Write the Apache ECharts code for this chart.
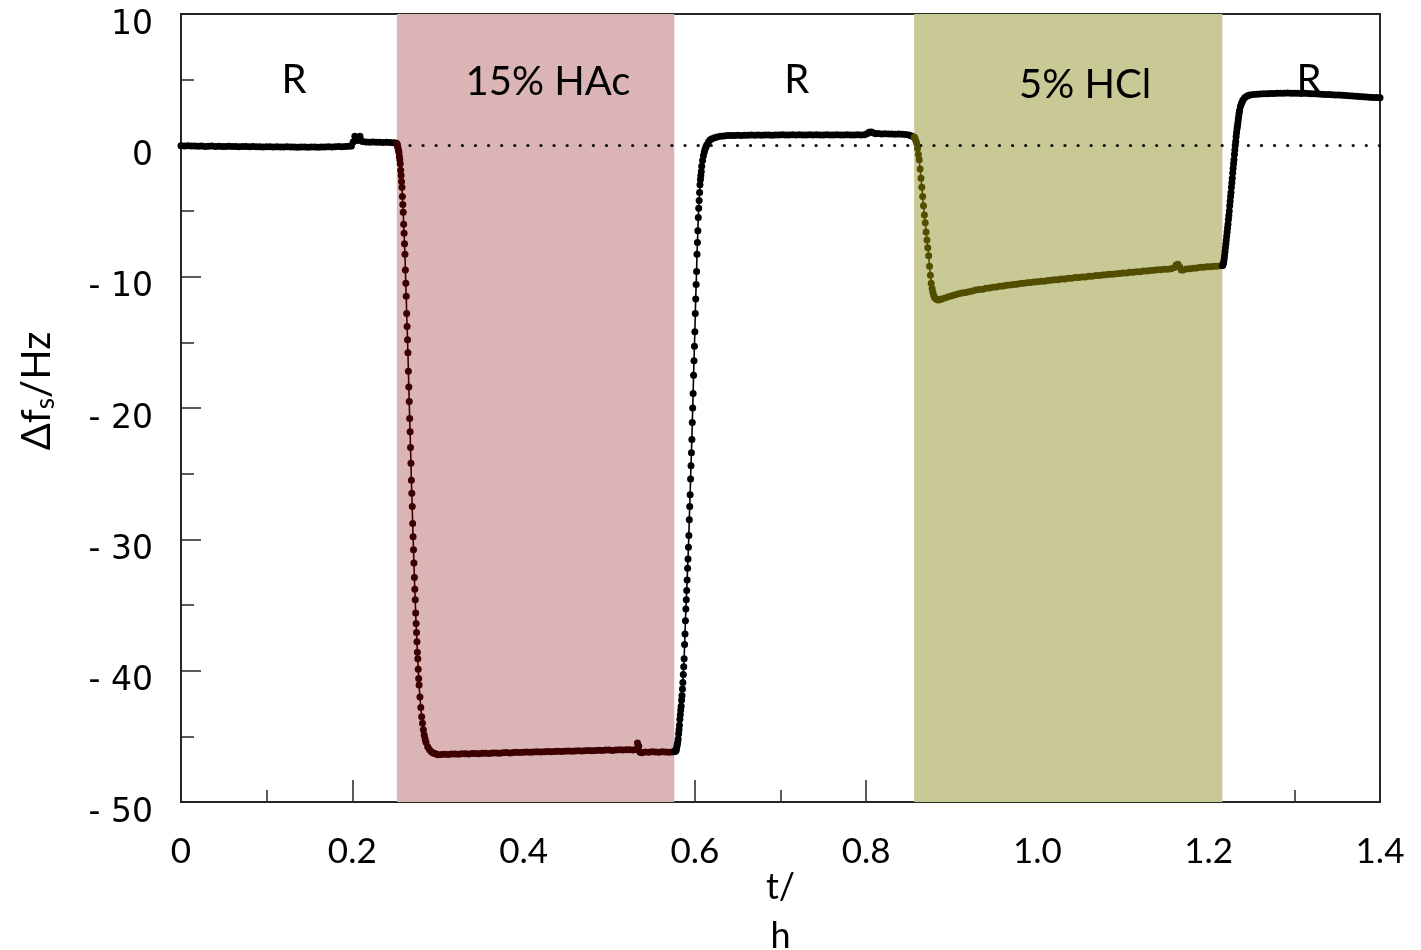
<!DOCTYPE html>
<html>
<head>
<meta charset="utf-8">
<script src="https://cdn.jsdelivr.net/npm/echarts@6/dist/echarts.min.js"></script>
<style>html,body{margin:0;padding:0;background:#fff}#c{width:1421px;height:950px}</style>
</head>
<body>
<div id="c"></div>
<script>
// ---- data (t in h, Δf in Hz) ----
const xTickLabels = ['0','0.2','0.4','0.6','0.8','1.0','1.2','1.4'];
const yTickLabels = ['- 50','- 40','- 30','- 20','- 10','0','10'];
const regionNames = ['R','15% HAc','R','5% HCl','R'];
const regionLabelT = [0.132,0.4285,0.719,1.0556,1.317];
const regionLabelY = [4.94,4.8,4.94,4.56,4.94];
const hacSpan = [0.252,0.576];
const hclSpan = [0.856,1.216];
const zeroLineSpan = [0.252,1.4];

// rinse before acid (black)
const rinse1 = [[0,-0.03],[0.004,-0.05],[0.008,-0.04],[0.012,-0.06],[0.016,-0.05],[0.02,-0.07],[0.024,-0.06],[0.028,-0.08],[0.032,-0.07],[0.036,-0.06],[0.04,-0.08],[0.044,-0.07],[0.048,-0.09],[0.052,-0.08],[0.056,-0.07],[0.06,-0.09],[0.064,-0.08],[0.068,-0.1],[0.072,-0.09],[0.076,-0.08],[0.08,-0.1],[0.084,-0.09],[0.088,-0.11],[0.092,-0.1],[0.096,-0.12],[0.1,-0.11],[0.104,-0.1],[0.108,-0.12],[0.112,-0.11],[0.116,-0.13],[0.12,-0.12],[0.124,-0.11],[0.128,-0.13],[0.132,-0.12],[0.136,-0.14],[0.14,-0.13],[0.144,-0.12],[0.148,-0.14],[0.152,-0.13],[0.156,-0.12],[0.16,-0.14],[0.164,-0.13],[0.168,-0.12],[0.172,-0.11],[0.176,-0.12],[0.18,-0.1],[0.184,-0.09],[0.188,-0.1],[0.192,-0.08],[0.196,-0.07],[0.199,-0.05],[0.201,0.25],[0.203,0.7],[0.204,0.38],[0.206,0.36],[0.208,0.42],[0.209,0.7],[0.21,0.38],[0.212,0.3],[0.216,0.25],[0.22,0.24],[0.224,0.25],[0.228,0.23],[0.232,0.24],[0.236,0.22],[0.24,0.23],[0.244,0.21],[0.248,0.2],[0.2505,0.18],[0.252,0.12]];

// 15% HAc (dark red)
const hac = [[0.252,0.12],[0.2525,0.05],[0.253,-0.1],[0.2535,-0.25],[0.254,-0.4],[0.2545,-0.55],[0.255,-0.85],[0.2555,-1.1],[0.256,-1.4],[0.2565,-1.9],[0.257,-2.3],[0.2575,-2.75],[0.258,-3.2],[0.2585,-3.9],[0.259,-4.5],[0.2595,-5.1],[0.26,-6.0],[0.2605,-6.7],[0.261,-7.5],[0.2615,-8.3],[0.262,-9.5],[0.2625,-10.5],[0.263,-11.5],[0.2635,-12.8],[0.264,-13.8],[0.2645,-14.8],[0.265,-15.8],[0.2655,-17.2],[0.266,-18.4],[0.2665,-19.5],[0.267,-20.8],[0.2675,-21.8],[0.268,-23.0],[0.2685,-24.2],[0.269,-25.5],[0.2695,-26.5],[0.27,-27.5],[0.2705,-28.8],[0.271,-29.8],[0.2715,-30.8],[0.272,-31.8],[0.2725,-32.9],[0.273,-33.8],[0.2735,-34.6],[0.274,-35.6],[0.2745,-36.4],[0.275,-37.1],[0.2755,-37.8],[0.276,-38.6],[0.2765,-39.1],[0.277,-39.9],[0.2775,-40.6],[0.278,-41.1],[0.279,-42.0],[0.28,-42.8],[0.281,-43.5],[0.282,-44.0],[0.283,-44.5],[0.284,-44.9],[0.285,-45.2],[0.286,-45.45],[0.288,-45.8],[0.29,-46.0],[0.292,-46.15],[0.294,-46.25],[0.296,-46.3],[0.298,-46.35],[0.3,-46.4],
[0.304,-46.38],[0.308,-46.36],[0.312,-46.38],[0.316,-46.35],[0.32,-46.34],[0.324,-46.36],[0.328,-46.33],[0.332,-46.32],[0.336,-46.34],[0.34,-46.31],[0.344,-46.3],[0.348,-46.32],[0.352,-46.29],[0.356,-46.28],[0.36,-46.3],[0.364,-46.27],[0.368,-46.26],[0.372,-46.28],[0.376,-46.25],[0.38,-46.24],[0.384,-46.26],[0.388,-46.23],[0.392,-46.22],[0.396,-46.24],[0.4,-46.21],[0.404,-46.2],[0.408,-46.22],[0.412,-46.19],[0.416,-46.18],[0.42,-46.2],[0.424,-46.17],[0.428,-46.16],[0.432,-46.18],[0.436,-46.15],[0.44,-46.14],[0.444,-46.16],[0.448,-46.13],[0.452,-46.12],[0.456,-46.14],[0.46,-46.11],[0.464,-46.1],[0.468,-46.12],[0.472,-46.09],[0.476,-46.08],[0.48,-46.1],[0.484,-46.07],[0.488,-46.06],[0.492,-46.08],[0.496,-46.05],[0.5,-46.05],[0.504,-46.07],[0.508,-46.04],[0.512,-46.03],[0.516,-46.05],[0.52,-46.02],[0.524,-46.02],[0.528,-46.04],[0.531,-46.0],[0.533,-45.5],[0.5345,-45.75],[0.536,-46.22],[0.538,-46.25],[0.542,-46.2],[0.546,-46.22],[0.55,-46.18],[0.554,-46.2],[0.558,-46.22],[0.562,-46.18],[0.566,-46.2],[0.57,-46.22],[0.574,-46.2],[0.576,-46.15]];

// rinse after HAc (black)
const rinse2 = [[0.576,-46.15],[0.5765,-46.15],[0.577,-46.1],[0.5775,-46.1],[0.578,-46.1],[0.5785,-45.95],[0.579,-45.8],[0.5795,-45.6],[0.58,-45.45],[0.5805,-45.2],[0.581,-44.8],[0.5815,-44.5],[0.582,-44.15],[0.5825,-43.7],[0.583,-43.35],[0.5835,-43.0],[0.584,-42.7],[0.5845,-42.25],[0.585,-41.9],[0.5855,-41.4],[0.586,-40.9],[0.5865,-40.3],[0.587,-39.7],[0.5875,-39.1],[0.588,-38.0],[0.5885,-37.2],[0.589,-36.2],[0.5895,-35.3],[0.59,-34.6],[0.5905,-33.9],[0.591,-33.1],[0.5915,-32.2],[0.592,-31.5],[0.5925,-30.6],[0.593,-29.7],[0.5935,-28.5],[0.594,-27.5],[0.5945,-26.6],[0.595,-25.4],[0.5955,-24.4],[0.596,-23.4],[0.5965,-22.4],[0.597,-21.1],[0.5975,-20.0],[0.598,-18.9],[0.5985,-17.5],[0.599,-16.4],[0.5995,-15.3],[0.6,-14.2],[0.6005,-12.8],[0.601,-11.7],[0.6015,-10.6],[0.602,-9.6],[0.6025,-8.3],[0.603,-7.4],[0.6035,-6.5],[0.604,-5.5],[0.6045,-4.8],[0.605,-4.2],[0.6055,-3.6],[0.606,-3.0],[0.6065,-2.6],[0.607,-2.3],[0.6075,-2.0],[0.608,-1.6],[0.609,-1.15],[0.61,-0.8],[0.611,-0.5],[0.612,-0.28],[0.613,-0.1],[0.614,0.05],[0.616,0.28],[0.618,0.42],[0.62,0.5],[0.623,0.58],[0.626,0.64],[0.63,0.69],[0.634,0.72],
[0.638,0.74],[0.642,0.75],[0.646,0.74],[0.65,0.76],[0.654,0.75],[0.658,0.77],[0.662,0.76],[0.666,0.78],[0.67,0.77],[0.674,0.78],[0.678,0.77],[0.682,0.79],[0.686,0.78],[0.69,0.77],[0.694,0.79],[0.698,0.78],[0.702,0.8],[0.706,0.79],[0.71,0.78],[0.714,0.8],[0.718,0.79],[0.722,0.8],[0.726,0.79],[0.73,0.78],[0.734,0.8],[0.738,0.79],[0.742,0.8],[0.746,0.78],[0.75,0.79],[0.754,0.8],[0.758,0.78],[0.762,0.79],[0.766,0.8],[0.77,0.79],[0.774,0.78],[0.778,0.8],[0.782,0.79],[0.786,0.78],[0.79,0.8],[0.794,0.79],[0.798,0.8],[0.801,0.88],[0.8035,1.0],[0.806,1.02],[0.808,0.95],[0.811,0.88],[0.814,0.9],[0.818,0.87],[0.822,0.88],[0.826,0.86],[0.83,0.87],[0.834,0.85],[0.838,0.86],[0.842,0.84],[0.846,0.82],[0.85,0.78],[0.853,0.72],[0.856,0.62]];

// 5% HCl (dark olive)
const hcl = [[0.856,0.62],[0.857,0.55],[0.858,0.35],[0.859,0.15],[0.86,-0.25],[0.861,-0.7],[0.862,-1.1],[0.863,-1.8],[0.864,-2.5],[0.865,-3.2],[0.866,-3.9],[0.867,-4.6],[0.868,-5.3],[0.869,-5.9],[0.87,-6.6],[0.871,-7.2],[0.872,-7.8],[0.873,-8.4],[0.874,-9.2],[0.875,-9.9],[0.876,-10.5],[0.877,-10.9],[0.878,-11.2],[0.879,-11.45],[0.88,-11.6],[0.882,-11.72],[0.884,-11.78],[0.886,-11.75],[0.888,-11.7],
[0.892,-11.62],[0.896,-11.52],[0.9,-11.46],[0.904,-11.37],[0.908,-11.31],[0.912,-11.24],[0.916,-11.2],[0.92,-11.14],[0.924,-11.09],[0.928,-11.02],[0.932,-10.98],[0.936,-10.95],[0.94,-10.89],[0.944,-10.86],[0.948,-10.81],[0.952,-10.79],[0.956,-10.73],[0.96,-10.71],[0.964,-10.66],[0.968,-10.64],[0.972,-10.59],[0.976,-10.58],[0.98,-10.52],[0.984,-10.51],[0.988,-10.46],[0.992,-10.45],[0.996,-10.4],[1.0,-10.39],[1.004,-10.35],[1.008,-10.34],[1.012,-10.29],[1.016,-10.28],[1.02,-10.23],[1.024,-10.23],[1.028,-10.18],[1.032,-10.17],[1.036,-10.13],[1.04,-10.12],[1.044,-10.07],[1.048,-10.07],[1.052,-10.02],[1.056,-10.02],[1.06,-9.97],[1.064,-9.96],[1.068,-9.92],[1.072,-9.91],[1.076,-9.87],[1.08,-9.86],[1.084,-9.82],[1.088,-9.81],[1.092,-9.77],[1.096,-9.76],[1.1,-9.72],[1.104,-9.72],[1.108,-9.67],[1.112,-9.67],[1.116,-9.62],[1.12,-9.62],[1.124,-9.57],[1.128,-9.57],[1.132,-9.53],[1.136,-9.52],[1.14,-9.48],[1.144,-9.48],[1.148,-9.44],[1.152,-9.44],[1.156,-9.4],[1.16,-9.3],[1.162,-9.12],[1.164,-9.05],[1.166,-9.25],[1.168,-9.5],[1.17,-9.5],[1.174,-9.42],[1.178,-9.39],[1.182,-9.35],[1.186,-9.34],[1.19,-9.29],[1.194,-9.29],[1.198,-9.25],[1.202,-9.25],[1.206,-9.21],[1.21,-9.21],[1.214,-9.17],[1.216,-9.15]];

// rinse after HCl (black)
const rinse3 = [[1.216,-9.15],[1.2165,-9.1],[1.217,-9.0],[1.2175,-8.9],[1.218,-8.65],[1.2185,-8.4],[1.219,-8.1],[1.2195,-7.8],[1.22,-7.5],[1.2205,-7.2],[1.221,-6.9],[1.2215,-6.6],[1.222,-6.3],[1.2225,-6.0],[1.223,-5.65],[1.2235,-5.35],[1.224,-5.0],[1.2245,-4.6],[1.225,-4.25],[1.2255,-3.9],[1.226,-3.6],[1.2265,-3.2],[1.227,-2.85],[1.2275,-2.5],[1.228,-2.1],[1.2285,-1.75],[1.229,-1.4],[1.2295,-1.1],[1.23,-0.7],[1.2305,-0.35],[1.231,0.0],[1.2315,0.3],[1.232,0.65],[1.2325,0.95],[1.233,1.25],[1.2335,1.45],[1.234,1.7],[1.2345,1.95],[1.235,2.2],[1.2355,2.45],[1.236,2.65],[1.237,2.95],[1.238,3.15],[1.239,3.3],[1.24,3.45],[1.242,3.62],[1.244,3.72],[1.246,3.8],[1.248,3.84],
[1.252,3.87],[1.256,3.89],[1.26,3.9],[1.264,3.92],[1.268,3.93],[1.272,3.94],[1.276,3.95],[1.28,3.96],[1.284,3.97],[1.288,3.97],[1.292,3.98],[1.296,3.97],[1.3,3.96],[1.304,3.97],[1.308,3.95],[1.312,3.96],[1.316,3.94],[1.32,3.93],[1.324,3.92],[1.328,3.91],[1.332,3.89],[1.336,3.88],[1.34,3.87],[1.344,3.85],[1.348,3.84],[1.352,3.83],[1.356,3.81],[1.36,3.8],[1.364,3.78],[1.368,3.76],[1.372,3.74],[1.376,3.72],[1.38,3.7],[1.384,3.68],[1.388,3.67],[1.392,3.65],[1.396,3.64],[1.4,3.62]];

// ---- styles ----
const AXIS_COLOR = '#262626';
const HAC_BG = '#dbb4b5';
const HCL_BG = '#c9c996';
const BLACK = '#000000';
const HAC_LINE = '#3d0000';
const HCL_LINE = '#524e00';
const TEXT_FONT = 'Lato, "Open Sans", sans-serif';

function dataSeries(data, color) {
  return {
    type: 'line', data: data, z: 5,
    lineStyle: { color: color, width: 1.6 },
    itemStyle: { color: color },
    symbol: 'circle', symbolSize: 7, showSymbol: true, showAllSymbol: true,
    silent: true, animation: false
  };
}

const chart = echarts.init(document.getElementById('c'), null, { renderer: 'canvas' });
chart.setOption({
  backgroundColor: '#ffffff',
  animation: false,
  grid: { left: 181, right: 41, top: 14, bottom: 148, outerBoundsMode: 'none', containLabel: false,
    show: true, borderColor: AXIS_COLOR, borderWidth: 2, backgroundColor: 'transparent' },
  xAxis: {
    type: 'value', min: 0, max: 1.4, interval: 0.2,
    name: 't/\nh', nameLocation: 'middle', nameGap: 61, nameMoveOverlap: false,
    nameTextStyle: { fontFamily: TEXT_FONT, fontSize: 36, color: '#000', lineHeight: 49 },
    axisLine: { onZero: false, lineStyle: { color: AXIS_COLOR, width: 2 } },
    axisTick: { inside: true, length: 22, lineStyle: { color: AXIS_COLOR, width: 1.5 } },
    minorTick: { show: true, splitNumber: 2, length: 12, lineStyle: { color: AXIS_COLOR, width: 1.5 } },
    splitLine: { show: false },
    axisLabel: { margin: 32, fontFamily: TEXT_FONT, fontSize: 35, color: '#000',
      formatter: v => xTickLabels[Math.round(v / 0.2)] }
  },
  yAxis: {
    type: 'value', min: -50, max: 10, interval: 10,
    name: '{a|Δf}{s|s}{a|/Hz}', nameLocation: 'middle', nameGap: 122, nameRotate: 90, nameMoveOverlap: false,
    nameTextStyle: { padding: [0, 0, 0, 34], rich: {
      a: { fontFamily: TEXT_FONT, fontSize: 40, color: '#000' },
      s: { fontFamily: TEXT_FONT, fontSize: 26, color: '#000', padding: [18, 0, 0, 0] } } },
    axisLine: { onZero: false, lineStyle: { color: AXIS_COLOR, width: 2 } },
    axisTick: { inside: true, length: 20, lineStyle: { color: AXIS_COLOR, width: 1.5 } },
    minorTick: { show: true, splitNumber: 2, length: 13, lineStyle: { color: AXIS_COLOR, width: 1.5 } },
    splitLine: { show: false },
    axisLabel: { margin: 28, color: '#000',
      formatter: v => '{v|' + yTickLabels[Math.round((v + 50) / 10)] + '}',
      rich: { v: { fontFamily: '"DejaVu Sans", Verdana, sans-serif', fontSize: 33, color: '#000', padding: [22, 0, 0, 0] } } }
  },
  series: [
    {
      type: 'line', data: [[0, 0]], showSymbol: false, lineStyle: { opacity: 0 }, z: 1, silent: true,
      markArea: { silent: true, z: 1, data: [
        [{ xAxis: hacSpan[0], itemStyle: { color: HAC_BG } }, { xAxis: hacSpan[1] }],
        [{ xAxis: hclSpan[0], itemStyle: { color: HCL_BG } }, { xAxis: hclSpan[1] }]
      ] },
      markLine: { silent: true, symbol: 'none', z: 2, label: { show: false },
        lineStyle: { color: '#111', width: 3.2, type: [0.1, 13], cap: 'round' },
        data: [[{ coord: [zeroLineSpan[0], 0] }, { coord: [zeroLineSpan[1], 0] }]] },
      markPoint: { silent: true, symbol: 'circle', symbolSize: 0, z: 6,
        label: { show: true, position: 'inside', formatter: p => p.name, fontFamily: TEXT_FONT, fontSize: 40, color: '#000' },
        data: regionNames.map((n, i) => ({ name: n, coord: [regionLabelT[i], regionLabelY[i]] })) }
    },
    dataSeries(rinse1, BLACK),
    dataSeries(hac, HAC_LINE),
    dataSeries(rinse2, BLACK),
    dataSeries(hcl, HCL_LINE),
    dataSeries(rinse3, BLACK)
  ]
});
</script>
</body>
</html>
